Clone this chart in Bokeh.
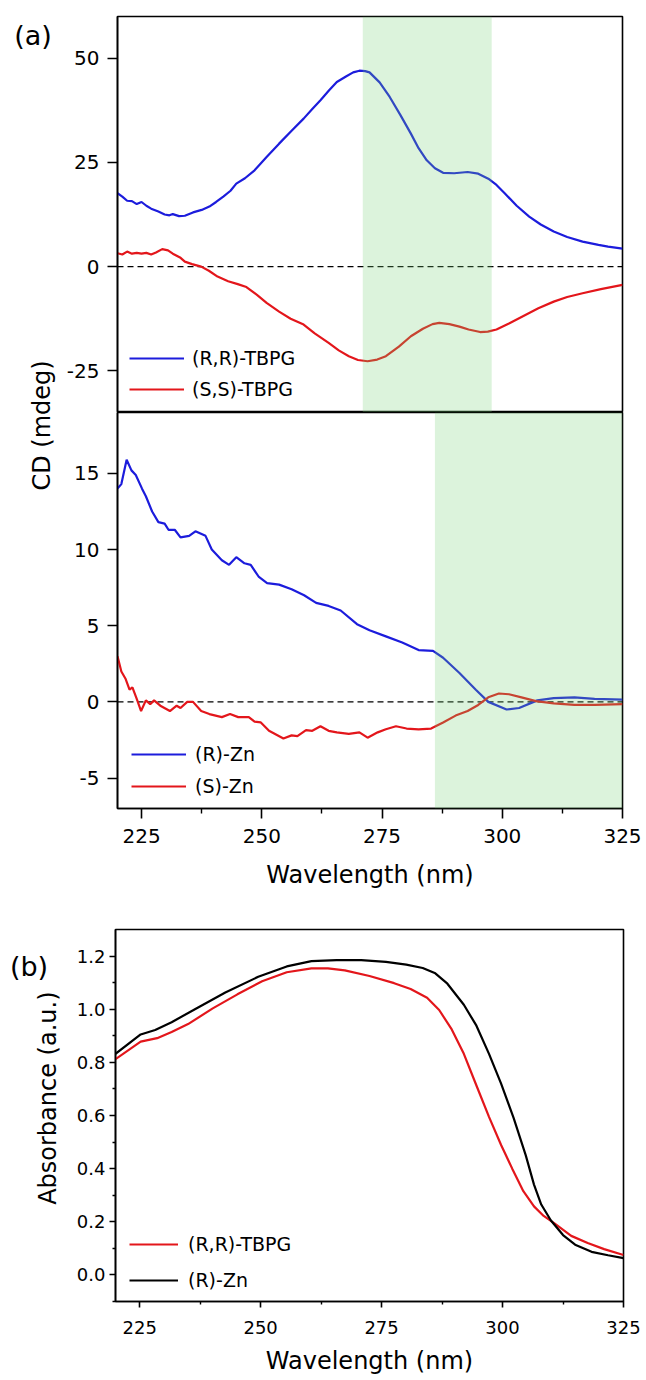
from math import pi
from bokeh.plotting import figure
from bokeh.models import (Range1d, FixedTicker, Span, BoxAnnotation, Label,
                          Legend, LegendItem, PrintfTickFormatter)
from bokeh.layouts import column, row
from bokeh.embed import file_html
from bokeh.resources import INLINE

# ---------------- data ----------------
# (a) upper: TBPG CD spectra
wl_tbpg_rr = [220, 221, 222, 223, 224, 225, 226, 227, 228.5, 229.8, 230.8, 231.5, 232.8,
              234, 235.7, 237.5, 239.1, 240.5, 242, 243.5, 244.7, 246.5, 248.5, 251,
              253.6, 256.2, 258.7, 260.5, 262.2, 264, 265.6, 267.5, 269, 270.3, 271.5,
              272.4, 274.5, 276.6, 278.8, 281, 282.6, 284.3, 286, 287.7, 290, 292.8,
              295, 297.1, 298.8, 300.5, 303, 305.6, 308, 310.7, 313.5, 316.7, 320, 322, 325]
cd_tbpg_rr = [17.6, 16.8, 15.8, 15.7, 15.0, 15.5, 14.6, 13.9, 13.2, 12.5, 12.3, 12.6, 12.1,
              12.2, 13.0, 13.6, 14.4, 15.5, 16.8, 18.2, 19.9, 21.2, 23.1, 26.3,
              29.5, 32.6, 35.5, 37.8, 39.9, 42.3, 44.3, 45.6, 46.6, 47.0, 46.9,
              46.6, 44.2, 40.7, 36.4, 31.9, 28.4, 25.5, 23.6, 22.5, 22.4, 22.7,
              22.3, 21.1, 19.6, 17.6, 14.6, 12.0, 10.1, 8.4, 7.1, 6.0, 5.2, 4.8, 4.3]

wl_tbpg_ss = [220, 221, 222, 223, 224, 225, 226, 227, 228, 229.3, 230.5, 231.5, 233, 234,
              235.5, 237.4, 239, 240.8, 243, 245, 246.8, 249, 251, 253.6, 256, 258.7,
              261, 263.9, 266, 268.1, 270, 272, 274, 275.8, 278.5, 281, 283.5, 285.5,
              286.9, 289, 291.1, 293, 295.4, 297, 298.8, 301.5, 304.8, 307.5, 310.7,
              313.5, 316.7, 320.5, 325]
cd_tbpg_ss = [3.2, 2.9, 3.6, 3.1, 3.3, 3.1, 3.3, 2.9, 3.4, 4.2, 3.9, 3.1, 2.2, 1.2,
              0.6, 0.0, -1.0, -2.4, -3.5, -4.2, -4.9, -6.8, -8.7, -10.8, -12.5, -13.9,
              -16.0, -18.3, -20.1, -21.5, -22.4, -22.7, -22.3, -21.5, -19.2, -16.7, -14.9, -13.8,
              -13.5, -13.8, -14.4, -15.1, -15.7, -15.6, -15.1, -13.6, -11.6, -10.0, -8.4,
              -7.3, -6.4, -5.4, -4.4]

# (a) lower: Zn complex CD spectra
wl_zn_r = [220, 220.8, 221.9, 222.9, 223.8, 225.1, 225.9, 227.2, 228.5, 229.8, 230.6, 231.9,
           233.1, 234.9, 236.2, 238.3, 239.6, 241.7, 243.2, 244.7, 246.4, 247.7, 249.4,
           251.1, 253.6, 256.2, 258.8, 261.3, 263.9, 266.4, 269.8, 272.4, 275.8, 279.2,
           282.6, 285.6, 287.7, 291.1, 294.5, 297.1, 300.9, 303.5, 307.3, 310.7, 315,
           319.2, 325]
cd_zn_r = [14.0, 14.3, 15.9, 15.2, 14.9, 14.0, 13.5, 12.5, 11.8, 11.7, 11.3, 11.3,
           10.8, 10.9, 11.2, 10.9, 10.0, 9.3, 9.0, 9.5, 9.1, 9.0, 8.2,
           7.8, 7.7, 7.4, 7.0, 6.5, 6.3, 6.0, 5.1, 4.7, 4.3, 3.9,
           3.4, 3.35, 2.9, 1.9, 0.8, 0.0, -0.5, -0.4, 0.1, 0.25, 0.3,
           0.2, 0.15]

wl_zn_s = [220, 220.8, 221.7, 222.5, 223.1, 224, 224.9, 225.9, 226.8, 227.6, 228.9, 230.9,
           232.3, 233.1, 234.5, 235.7, 237.4, 239.1, 241.7, 243.4, 245.1, 247.3, 248.5,
           249.8, 251.5, 254.5, 256.2, 257.4, 259.2, 260.5, 262.2, 263.9, 265.6, 268.1,
           270.3, 272, 274.1, 275.8, 277.9, 280.1, 282.6, 285.2, 287.7, 290.3, 292.8,
           295, 297.1, 299.3, 301.4, 304, 307, 310.7, 315, 319.2, 325]
cd_zn_s = [3.0, 2.0, 1.5, 0.8, 0.95, 0.2, -0.6, 0.1, -0.15, 0.1, -0.25, -0.6,
           -0.25, -0.4, 0.0, 0.0, -0.6, -0.8, -1.0, -0.8, -1.0, -1.0, -1.3,
           -1.35, -1.9, -2.4, -2.2, -2.25, -1.85, -1.9, -1.6, -1.9, -2.0, -2.1,
           -2.0, -2.35, -2.0, -1.8, -1.6, -1.75, -1.8, -1.75, -1.35, -0.9, -0.6,
           -0.2, 0.3, 0.55, 0.5, 0.3, 0.05, -0.1, -0.2, -0.2, -0.15]

# (b) absorbance
wl_abs_rr = [220, 225.2, 228.6, 231.6, 235, 240.1, 245.2, 250.3, 255.4, 260.5, 263.9,
             267.4, 272.5, 277.6, 281, 284.4, 286.9, 289.5, 292, 294.6, 297.2, 299.7,
             302, 304.3, 306.5, 308.5, 310.8, 314.2, 317.6, 321, 325]
abs_rr = [0.812, 0.878, 0.891, 0.914, 0.944, 1.003, 1.056, 1.105, 1.139, 1.154, 1.154,
          1.146, 1.125, 1.098, 1.076, 1.043, 0.997, 0.924, 0.832, 0.713, 0.595, 0.489,
          0.400, 0.315, 0.258, 0.222, 0.193, 0.147, 0.120, 0.097, 0.075]

wl_abs_zn = [220, 225.2, 228.2, 231.6, 236.7, 242.7, 249.5, 255.4, 260.5, 265.7, 270.8,
             275.9, 280.1, 283.5, 286.1, 288.6, 292, 294.6, 297.2, 299.7, 302.3, 304.8,
             306.5, 308, 310, 312.5, 315, 318.4, 321.8, 325]
abs_zn = [0.832, 0.905, 0.922, 0.951, 1.003, 1.063, 1.122, 1.161, 1.181, 1.185, 1.185,
          1.178, 1.168, 1.155, 1.135, 1.096, 1.017, 0.938, 0.832, 0.720, 0.590, 0.450,
          0.340, 0.265, 0.205, 0.150, 0.114, 0.087, 0.074, 0.063]

x_ticks = [225, 250, 275, 300, 325]
x_minor = [237.5, 262.5, 287.5, 312.5]
y_ticks_top = [-25, 0, 25, 50]
y_ticks_low = [-5, 0, 5, 10, 15]
y_ticks_abs = [0.0, 0.2, 0.4, 0.6, 0.8, 1.0, 1.2]
y_minor_abs = [-0.1, 0.1, 0.3, 0.5, 0.7, 0.9, 1.1]
band_top = (271, 297.8)
band_low = (286, 325)

labels_top = ["(R,R)-TBPG", "(S,S)-TBPG"]
labels_low = ["(R)-Zn", "(S)-Zn"]
labels_abs = ["(R,R)-TBPG", "(R)-Zn"]

# ---------------- style ----------------
FONT = "DejaVu Sans"
BLUE = "#1c1cdc"
RED = "#e3161b"
BLACK = "#000000"
BAND = "#73cf73"


def base_fig(w, h, yr, mb_left, mb_right, mb_top, mb_bottom, xaxis=True):
    p = figure(width=w, height=h, x_range=Range1d(220, 325), y_range=Range1d(*yr),
               output_backend="svg", toolbar_location=None,
               x_axis_location="below" if xaxis else None,
               min_border_left=mb_left, min_border_right=mb_right,
               min_border_top=mb_top, min_border_bottom=mb_bottom)
    p.grid.grid_line_color = None
    p.outline_line_color = BLACK
    p.outline_line_width = 1.6
    p.outline_line_alpha = 1.0
    p.background_fill_color = "white"
    p.border_fill_color = "white"
    return p


def style_axis(ax, ticks, minor, size, tout, mout, standoff):
    ax.ticker = FixedTicker(ticks=ticks, minor_ticks=minor)
    ax.axis_line_color = BLACK
    ax.axis_line_width = 1.6
    ax.major_tick_line_color = BLACK
    ax.major_tick_line_width = 1.6
    ax.minor_tick_line_color = BLACK
    ax.minor_tick_line_width = 1.4
    ax.major_tick_in = 0
    ax.major_tick_out = tout
    ax.minor_tick_in = 0
    ax.minor_tick_out = mout
    ax.major_label_text_font = FONT
    ax.major_label_text_font_size = size
    ax.major_label_text_color = BLACK
    ax.major_label_standoff = standoff
    ax.major_label_overrides = {t: str(t) for t in ticks if t < 0}


def axis_title(ax, text, standoff):
    ax.axis_label = text
    ax.axis_label_text_font = FONT
    ax.axis_label_text_font_size = "24px"
    ax.axis_label_text_font_style = "normal"
    ax.axis_label_text_color = BLACK
    ax.axis_label_standoff = standoff


def add_legend(p, items, loc, spacing, gw, standoff, size):
    leg = Legend(items=[LegendItem(label=l, renderers=[r]) for l, r in items],
                 location=loc, border_line_color=None, background_fill_alpha=0,
                 padding=0, margin=0, spacing=spacing, glyph_width=gw, glyph_height=20,
                 label_height=20, label_standoff=standoff,
                 label_text_font=FONT, label_text_font_size=size, label_text_color=BLACK)
    p.add_layout(leg)


def zero_line(p):
    p.add_layout(Span(location=0, dimension="width", line_color=BLACK,
                      line_width=1.4, line_dash="6 4", level="underlay"))


def band(p, lr):
    p.add_layout(BoxAnnotation(left=lr[0], right=lr[1], fill_color=BAND,
                               fill_alpha=0.25, line_color=None))


def label_fig(w, h):
    f = figure(width=w, height=h, x_range=Range1d(0, w), y_range=Range1d(0, h),
               output_backend="svg", toolbar_location=None, min_border=0,
               x_axis_location=None, y_axis_location=None)
    f.grid.grid_line_color = None
    f.outline_line_color = None
    return f


# ---------------- (a) upper ----------------
f1 = base_fig(581, 412, (-35, 60), 54, 22, 16, 0, xaxis=False)
style_axis(f1.yaxis[0], y_ticks_top, [], "20px", 10, 5, 8)
zero_line(f1)
r1 = f1.line(wl_tbpg_rr, cd_tbpg_rr, line_color=BLUE, line_width=2.2)
r2 = f1.line(wl_tbpg_ss, cd_tbpg_ss, line_color=RED, line_width=2.2)
band(f1, band_top)
add_legend(f1, [(labels_top[0], r1), (labels_top[1], r2)], (12, 12), 9, 55, 8, "19px")

# ---------------- (a) lower ----------------
f2 = base_fig(581, 484, (-7, 19), 54, 22, 0, 88)
style_axis(f2.yaxis[0], y_ticks_low, [], "20px", 10, 5, 8)
style_axis(f2.xaxis[0], x_ticks, x_minor, "20px", 10, 5, 10)
axis_title(f2.xaxis[0], "Wavelength (nm)", 15)
zero_line(f2)
r3 = f2.line(wl_zn_r, cd_zn_r, line_color=BLUE, line_width=2.2)
r4 = f2.line(wl_zn_s, cd_zn_s, line_color=RED, line_width=2.2)
band(f2, band_low)
add_legend(f2, [(labels_low[0], r3), (labels_low[1], r4)], (14, 11), 10, 55, 9, "19px")

# ---------------- (a) label column ----------------
lab_a = label_fig(63, 896)
lab_a.add_layout(Label(x=32.5, y=861.5, text="(a)", text_font=FONT, text_font_size="27px",
                       text_align="center", text_baseline="middle", text_color=BLACK))
lab_a.add_layout(Label(x=41, y=471, text="CD (mdeg)", angle=pi / 2, text_font=FONT,
                       text_font_size="24px", text_align="center", text_baseline="middle",
                       text_color=BLACK))

# ---------------- (b) ----------------
f3 = base_fig(580, 483, (-0.1, 1.3), 52, 20, 33, 78)
style_axis(f3.yaxis[0], y_ticks_abs, y_minor_abs, "18px", 6, 3, 4)
f3.yaxis[0].formatter = PrintfTickFormatter(format="%.1f")
style_axis(f3.xaxis[0], x_ticks, x_minor, "18px", 6, 3, 13)
axis_title(f3.xaxis[0], "Wavelength (nm)", 10)
r5 = f3.line(wl_abs_rr, abs_rr, line_color=RED, line_width=2.2)
r6 = f3.line(wl_abs_zn, abs_zn, line_color=BLACK, line_width=2.2)
add_legend(f3, [(labels_abs[0], r5), (labels_abs[1], r6)], (14, 10), 14, 49, 10, "19px")

lab_b = label_fig(63, 483)
lab_b.add_layout(Label(x=28.5, y=435.5, text="(b)", text_font=FONT, text_font_size="27px",
                       text_align="center", text_baseline="middle", text_color=BLACK))
lab_b.add_layout(Label(x=47, y=264, text="Absorbance (a.u.)", angle=pi / 2, text_font=FONT,
                       text_font_size="24px", text_align="center", text_baseline="middle",
                       text_color=BLACK))

layout = column(row(lab_a, column(f1, f2)), row(lab_b, f3))

open("out.html", "w").write(file_html(layout, INLINE))
